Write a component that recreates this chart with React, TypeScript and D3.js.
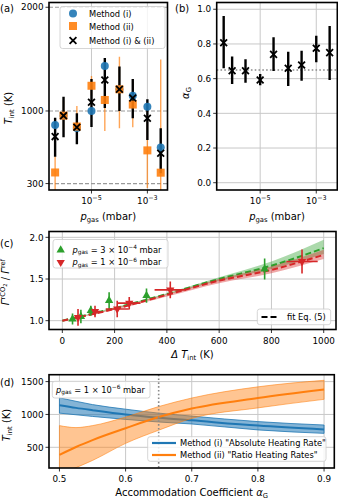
import * as d3 from "d3";

const FONT = "'DejaVu Sans', sans-serif";
const BLUE = "#1f77b4";
const ORANGE = "#ff7f0e";
const GREEN = "#2ca02c";
const RED = "#d62728";
const GRID = "#c8c8c8";
const TICK = 8.8;
const LABEL = 10;
const LEG = 8.3;

// (a) + (b): results vs gas pressure
const pGas = [5e-7, 1e-6, 3e-6, 1e-5, 3e-5, 1e-4, 3e-4, 1e-3, 3e-3];
const tMethodI = [865, 955, 835, 1000, 1433, 1209, 1147, 1041, 647];
const tMethodII = [407, 955, 850, 1243, 1106, 1209, 1062, 620, 405];
const tMethodIILo = [150, 820, 690, 1150, 807, 834, 843, 258, 150];
const tMethodIIHi = [560, 1100, 1048, 1337, 1400, 1522, 1280, 980, 1497];
const tBoth = [753, 955, 843, 1084, 1298, 1209, 1125, 930, 593];
const tBothLo = [559, 746, 679, 846, 1029, 1000, 930, 721, 400];
const tBothHi = [935, 1137, 978, 1308, 1511, 1428, 1308, 1112, 833];
const tRefLines = [300, 1000, 2000];
const pTicks = [1e-5, 1e-3];

const alphaG = [0.807, 0.646, 0.646, 0.592, 0.74, 0.66, 0.679, 0.775, 0.75];
const alphaGLo = [0.66, 0.569, 0.577, 0.562, 0.644, 0.558, 0.588, 0.694, 0.592];
const alphaGHi = [0.961, 0.727, 0.712, 0.627, 0.838, 0.755, 0.761, 0.848, 0.904];
const alphaTicks = [0, 0.2, 0.4, 0.6, 0.8, 1.0];
const alphaMean = 0.65;

// (c): rate ratio vs internal temperature
const dTHigh = [39, 71, 109, 179, 322, 774];
const gHigh = [1.02, 1.05, 1.12, 1.24, 1.3, 1.62];
const gHighErr = [0.065, 0.08, 0.06, 0.1, 0.085, 0.125];
const dTHighErr = [4, 4, 4, 4, 4, 8];
const dTLow = [60, 125, 210, 256, 413, 917];
const gLow = [1.04, 1.11, 1.14, 1.21, 1.37, 1.71];
const gLowErr = [0.1, 0.07, 0.1, 0.075, 0.1, 0.145];
const dTLowErr = [12, 19, 44, 43, 60, 60];
const fitT = [0, 200, 400, 600, 800, 1000];
const fitHigh = [1.0, 1.15, 1.32, 1.5, 1.66, 1.87];
const fitHighLo = [1.0, 1.14, 1.31, 1.48, 1.62, 1.8];
const fitHighHi = [1.0, 1.16, 1.33, 1.52, 1.71, 1.97];
const fitLow = [1.0, 1.14, 1.31, 1.48, 1.61, 1.79];
const fitLowLo = [1.0, 1.13, 1.29, 1.45, 1.57, 1.74];
const fitLowHi = [1.0, 1.15, 1.32, 1.5, 1.65, 1.85];
const dTTicks = [0, 200, 400, 600, 800, 1000];
const gTicks = [1.0, 1.5, 2.0];

// (d): T_int vs accommodation coefficient
const alphaAxis = [0.5, 0.525, 0.55, 0.6, 0.65, 0.7, 0.8, 0.9];
const tAbsolute = [1140, 1100, 1065, 1000, 950, 910, 830, 772];
const tAbsoluteHi = [1253, 1200, 1150, 1080, 1020, 975, 891, 839];
const tAbsoluteLo = [1020, 995, 970, 925, 885, 855, 765, 712];
const tRatio = [385, 505, 610, 790, 960, 1090, 1250, 1380];
const tRatioHi = [830, 800, 830, 960, 1120, 1250, 1420, 1520];
const tRatioLo = [80, 190, 300, 560, 760, 940, 1100, 1230];
const accTicks = [0.5, 0.6, 0.7, 0.8, 0.9];
const tTicksD = [500, 1000, 1500];

const Frame = ({ x0, x1, y0, y1 }) => (
    <rect x={x0} y={y0} width={x1 - x0} height={y1 - y0} fill="none" stroke="#000" strokeWidth={1.6} />
);

const Pow = ({ exp }) => (
    <>
        10<tspan dy={-4} fontSize={6.4}>{exp}</tspan>
    </>
);

const PgasLabel = ({ x, y }) => (
    <text x={x} y={y} fontSize={LABEL} textAnchor="middle">
        <tspan fontStyle="italic">p</tspan>
        <tspan fontSize={6.8} dy={2}>gas</tspan>
        <tspan dy={-2}> (mbar)</tspan>
    </text>
);

const TintLabel = ({ x, y }) => (
    <text transform={`translate(${x},${y}) rotate(-90)`} fontSize={LABEL} textAnchor="middle">
        <tspan fontStyle="italic">T</tspan>
        <tspan fontSize={6.8} dy={2}>int</tspan>
        <tspan dy={-2}> (K)</tspan>
    </text>
);

const XMark = ({ x, y, s = 3.4 }) => (
    <path d={`M${x - s},${y - s}L${x + s},${y + s}M${x - s},${y + s}L${x + s},${y - s}`} stroke="#000" strokeWidth={1.8} />
);

const LegendBox = ({ x, y, w, h }) => (
    <rect x={x} y={y} width={w} height={h} rx={2.5} fill="#fff" fillOpacity={0.8} stroke="#cccccc" strokeWidth={0.8} />
);

function PanelA() {
    const x = d3.scaleLog().domain([10 ** -6.52, 10 ** -2.28]).range([49, 167.5]);
    const y = d3.scaleLinear().domain([238, 2046]).range([190, 2.5]);
    const [x0, x1] = x.range();
    const [y1, y0] = y.range();
    return (
        <g>
            <clipPath id="clipA"><rect x={x0} y={y0} width={x1 - x0} height={y1 - y0} /></clipPath>
            {pTicks.map((v) => (
                <line key={v} x1={x(v)} x2={x(v)} y1={y0} y2={y1} stroke={GRID} strokeWidth={1} />
            ))}
            {tRefLines.map((v) => (
                <line key={v} x1={x0} x2={x1} y1={y(v)} y2={y(v)} stroke="#9a9a9a" strokeWidth={1.2} strokeDasharray="4,2" />
            ))}
            <g clipPath="url(#clipA)">
                {pGas.map((p, i) => (
                    <line key={"o" + i} x1={x(p)} x2={x(p)} y1={y(tMethodIILo[i])} y2={y(tMethodIIHi[i])} stroke={ORANGE} strokeOpacity={0.7} strokeWidth={1.4} />
                ))}
                {pGas.map((p, i) => (
                    <line key={"k" + i} x1={x(p)} x2={x(p)} y1={y(tBothLo[i])} y2={y(tBothHi[i])} stroke="#000" strokeWidth={2.4} />
                ))}
                {pGas.map((p, i) => (
                    <circle key={"c" + i} cx={x(p)} cy={y(tMethodI[i])} r={4} fill={BLUE} fillOpacity={0.9} />
                ))}
                {pGas.map((p, i) => (
                    <rect key={"s" + i} x={x(p) - 4} y={y(tMethodII[i]) - 4} width={8} height={8} fill={ORANGE} fillOpacity={0.9} />
                ))}
                {pGas.map((p, i) => (
                    <XMark key={"x" + i} x={x(p)} y={y(tBoth[i])} />
                ))}
            </g>
            <Frame x0={x0} x1={x1} y0={y0} y1={y1} />
            {tRefLines.map((v) => (
                <g key={v}>
                    <line x1={x0 - 3.5} x2={x0} y1={y(v)} y2={y(v)} stroke="#000" strokeWidth={0.8} />
                    <text x={x0 - 5.5} y={y(v) + 3.2} fontSize={TICK} textAnchor="end">{v}</text>
                </g>
            ))}
            {pTicks.map((v) => (
                <g key={v}>
                    <line x1={x(v)} x2={x(v)} y1={y1} y2={y1 + 3.5} stroke="#000" strokeWidth={0.8} />
                    <text x={x(v)} y={y1 + 13.5} fontSize={TICK} textAnchor="middle">
                        <Pow exp={"\u2212" + Math.round(-Math.log10(v))} />
                    </text>
                </g>
            ))}
            <PgasLabel x={(x0 + x1) / 2} y={219.5} />
            <TintLabel x={12} y={108} />
            <text x={0} y={11.5} fontSize={10}>(a)</text>

            <LegendBox x={60} y={6.5} w={105} h={42} />
            <circle cx={73} cy={13.5} r={4} fill={BLUE} fillOpacity={0.9} />
            <text x={89} y={16.5} fontSize={LEG}>Method (i)</text>
            <rect x={69} y={22} width={8} height={8} fill={ORANGE} fillOpacity={0.9} />
            <text x={89} y={29.5} fontSize={LEG}>Method (ii)</text>
            <XMark x={73} y={40.5} />
            <text x={89} y={43.5} fontSize={LEG}>Method (i) &amp; (ii)</text>
        </g>
    );
}

function PanelB() {
    const x = d3.scaleLog().domain([10 ** -6.55, 10 ** -2.25]).range([216.7, 337.3]);
    const y = d3.scaleLinear().domain([-0.042, 1.039]).range([190, 2.5]);
    const [x0, x1] = x.range();
    const [y1, y0] = y.range();
    return (
        <g>
            <clipPath id="clipB"><rect x={x0} y={y0} width={x1 - x0} height={y1 - y0} /></clipPath>
            {pTicks.map((v) => (
                <line key={v} x1={x(v)} x2={x(v)} y1={y0} y2={y1} stroke={GRID} strokeWidth={1} />
            ))}
            {alphaTicks.map((v) => (
                <line key={v} x1={x0} x2={x1} y1={y(v)} y2={y(v)} stroke={GRID} strokeWidth={1} />
            ))}
            <line x1={x0} x2={x1} y1={y(alphaMean)} y2={y(alphaMean)} stroke="#8a8a8a" strokeWidth={1.6} strokeDasharray="1.6,2.2" />
            <g clipPath="url(#clipB)">
                {pGas.map((p, i) => (
                    <line key={"k" + i} x1={x(p)} x2={x(p)} y1={y(alphaGLo[i])} y2={y(alphaGHi[i])} stroke="#000" strokeWidth={2.4} />
                ))}
                {pGas.map((p, i) => (
                    <XMark key={"x" + i} x={x(p)} y={y(alphaG[i])} />
                ))}
            </g>
            <Frame x0={x0} x1={x1} y0={y0} y1={y1} />
            {alphaTicks.map((v) => (
                <g key={v}>
                    <line x1={x0 - 3.5} x2={x0} y1={y(v)} y2={y(v)} stroke="#000" strokeWidth={0.8} />
                    <text x={x0 - 5.5} y={y(v) + 3.2} fontSize={TICK} textAnchor="end">{v.toFixed(1)}</text>
                </g>
            ))}
            {pTicks.map((v) => (
                <g key={v}>
                    <line x1={x(v)} x2={x(v)} y1={y1} y2={y1 + 3.5} stroke="#000" strokeWidth={0.8} />
                    <text x={x(v)} y={y1 + 13.5} fontSize={TICK} textAnchor="middle">
                        <Pow exp={"\u2212" + Math.round(-Math.log10(v))} />
                    </text>
                </g>
            ))}
            <PgasLabel x={(x0 + x1) / 2} y={219.5} />
            <text transform={`translate(${189},${93}) rotate(-90)`} fontSize={LABEL} textAnchor="middle">
                <tspan fontStyle="italic">α</tspan>
                <tspan fontSize={6.8} dy={2}>G</tspan>
            </text>
            <text x={175} y={11.5} fontSize={10}>(b)</text>
        </g>
    );
}

function PanelC() {
    const x = d3.scaleLinear().domain([-51, 1047]).range([49, 336]);
    const y = d3.scaleLinear().domain([0.894, 2.07]).range([329.5, 231.5]);
    const [x0, x1] = x.range();
    const [y1, y0] = y.range();
    const band = d3.area().x((d) => x(d[0])).y0((d) => y(d[1])).y1((d) => y(d[2])).curve(d3.curveMonotoneX);
    const line = d3.line().x((d) => x(d[0])).y((d) => y(d[1])).curve(d3.curveMonotoneX);
    const hiBand = fitT.map((t, i) => [t, fitHighLo[i], fitHighHi[i]]);
    const loBand = fitT.map((t, i) => [t, fitLowLo[i], fitLowHi[i]]);
    const tri = d3.symbol(d3.symbolTriangle, 30)();
    return (
        <g>
            <clipPath id="clipC"><rect x={x0} y={y0} width={x1 - x0} height={y1 - y0} /></clipPath>
            {dTTicks.map((v) => (
                <line key={v} x1={x(v)} x2={x(v)} y1={y0} y2={y1} stroke={GRID} strokeWidth={1} />
            ))}
            {gTicks.map((v) => (
                <line key={v} x1={x0} x2={x1} y1={y(v)} y2={y(v)} stroke={GRID} strokeWidth={1} />
            ))}
            <g clipPath="url(#clipC)">
                <path d={band(hiBand)} fill={GREEN} fillOpacity={0.4} />
                <path d={line(fitT.map((t, i) => [t, fitHigh[i]]))} fill="none" stroke={GREEN} strokeWidth={2} strokeDasharray="6,3" />
                <path d={band(loBand)} fill={RED} fillOpacity={0.4} />
                <path d={line(fitT.map((t, i) => [t, fitLow[i]]))} fill="none" stroke={RED} strokeWidth={2} strokeDasharray="6,3" />
                {dTHigh.map((t, i) => (
                    <g key={"g" + i} stroke={GREEN} strokeWidth={1.6}>
                        <line x1={x(t)} x2={x(t)} y1={y(gHigh[i] - gHighErr[i])} y2={y(gHigh[i] + gHighErr[i])} />
                        <line x1={x(t - dTHighErr[i])} x2={x(t + dTHighErr[i])} y1={y(gHigh[i])} y2={y(gHigh[i])} />
                    </g>
                ))}
                {dTLow.map((t, i) => (
                    <g key={"r" + i} stroke={RED} strokeWidth={1.6}>
                        <line x1={x(t)} x2={x(t)} y1={y(gLow[i] - gLowErr[i])} y2={y(gLow[i] + gLowErr[i])} />
                        <line x1={x(t - dTLowErr[i])} x2={x(t + dTLowErr[i])} y1={y(gLow[i])} y2={y(gLow[i])} />
                    </g>
                ))}
                {dTHigh.map((t, i) => (
                    <path key={"gt" + i} d={tri} transform={`translate(${x(t)},${y(gHigh[i])})`} fill={GREEN} />
                ))}
                {dTLow.map((t, i) => (
                    <path key={"rt" + i} d={tri} transform={`translate(${x(t)},${y(gLow[i])}) rotate(180)`} fill={RED} />
                ))}
            </g>
            <Frame x0={x0} x1={x1} y0={y0} y1={y1} />
            {gTicks.map((v) => (
                <g key={v}>
                    <line x1={x0 - 3.5} x2={x0} y1={y(v)} y2={y(v)} stroke="#000" strokeWidth={0.8} />
                    <text x={x0 - 5.5} y={y(v) + 3.2} fontSize={TICK} textAnchor="end">{v.toFixed(1)}</text>
                </g>
            ))}
            {dTTicks.map((v) => (
                <g key={v}>
                    <line x1={x(v)} x2={x(v)} y1={y1} y2={y1 + 3.5} stroke="#000" strokeWidth={0.8} />
                    <text x={x(v)} y={y1 + 14} fontSize={TICK} textAnchor="middle">{v}</text>
                </g>
            ))}
            <text x={(x0 + x1) / 2} y={358} fontSize={LABEL} textAnchor="middle">
                <tspan fontStyle="italic">Δ T</tspan>
                <tspan fontSize={6.8} dy={2}>int</tspan>
                <tspan dy={-2}> (K)</tspan>
            </text>
            <text transform={`translate(${9},${282}) rotate(-90)`} fontSize={LABEL} textAnchor="middle">
                <tspan fontStyle="italic">Γ</tspan>
                <tspan fontSize={6.8} dy={-3.8}>rCO</tspan>
                <tspan fontSize={5.2} dy={2}>2</tspan>
                <tspan dy={1.8}> / </tspan>
                <tspan fontStyle="italic">Γ</tspan>
                <tspan fontSize={6.8} dy={-3.8}>ref</tspan>
            </text>
            <text x={0} y={246.5} fontSize={10}>(c)</text>

            <LegendBox x={53} y={239.5} w={115} h={28.5} />
            <path d={tri} transform="translate(60.7,250)" fill={GREEN} />
            <text x={72.5} y={252.8} fontSize={LEG}>
                <tspan fontStyle="italic">p</tspan>
                <tspan fontSize={5.8} dy={1.5}>gas</tspan>
                <tspan dy={-1.5}> = 3 × 10</tspan>
                <tspan fontSize={5.8} dy={-3.5}>−4</tspan>
                <tspan dy={3.5}> mbar</tspan>
            </text>
            <path d={tri} transform="translate(60.7,262.3) rotate(180)" fill={RED} />
            <text x={72.5} y={265.3} fontSize={LEG}>
                <tspan fontStyle="italic">p</tspan>
                <tspan fontSize={5.8} dy={1.5}>gas</tspan>
                <tspan dy={-1.5}> = 1 × 10</tspan>
                <tspan fontSize={5.8} dy={-3.5}>−6</tspan>
                <tspan dy={3.5}> mbar</tspan>
            </text>

            <LegendBox x={257.3} y={309} w={73.4} h={15.7} />
            <line x1={261.5} x2={279.5} y1={317} y2={317} stroke="#000" strokeWidth={2} strokeDasharray="6,3" />
            <text x={287} y={320} fontSize={LEG}>fit Eq. (5)</text>
        </g>
    );
}

function PanelD() {
    const x = d3.scaleLinear().domain([0.4842, 0.9155]).range([49, 334.3]);
    const y = d3.scaleLinear().domain([185, 1605]).range([468, 374.7]);
    const [x0, x1] = x.range();
    const [y1, y0] = y.range();
    const band = d3.area().x((d) => x(d[0])).y0((d) => y(d[1])).y1((d) => y(d[2])).curve(d3.curveMonotoneX);
    const line = d3.line().x((d) => x(d[0])).y((d) => y(d[1])).curve(d3.curveMonotoneX);
    const absBand = alphaAxis.map((a, i) => [a, tAbsoluteLo[i], tAbsoluteHi[i]]);
    const ratBand = alphaAxis.map((a, i) => [a, tRatioLo[i], tRatioHi[i]]);
    const absLine = alphaAxis.map((a, i) => [a, tAbsolute[i]]);
    const ratLine = alphaAxis.map((a, i) => [a, tRatio[i]]);
    return (
        <g>
            <clipPath id="clipD"><rect x={x0} y={y0} width={x1 - x0} height={y1 - y0} /></clipPath>
            {accTicks.map((v) => (
                <line key={v} x1={x(v)} x2={x(v)} y1={y0} y2={y1} stroke={GRID} strokeWidth={1} />
            ))}
            {tTicksD.map((v) => (
                <line key={v} x1={x0} x2={x1} y1={y(v)} y2={y(v)} stroke={GRID} strokeWidth={1} />
            ))}
            <g clipPath="url(#clipD)">
                <path d={band(absBand)} fill={BLUE} fillOpacity={0.55} stroke={BLUE} strokeWidth={0.8} />
                <path d={line(absLine)} fill="none" stroke={BLUE} strokeWidth={2} />
                <path d={band(ratBand)} fill={ORANGE} fillOpacity={0.45} stroke={ORANGE} strokeOpacity={0.7} strokeWidth={0.8} />
                <path d={line(ratLine)} fill="none" stroke={ORANGE} strokeWidth={2} />
            </g>
            <line x1={x(alphaMean)} x2={x(alphaMean)} y1={y0} y2={y1} stroke="#8a8a8a" strokeWidth={1.6} strokeDasharray="1.6,2.2" />
            <Frame x0={x0} x1={x1} y0={y0} y1={y1} />
            {tTicksD.map((v) => (
                <g key={v}>
                    <line x1={x0 - 3.5} x2={x0} y1={y(v)} y2={y(v)} stroke="#000" strokeWidth={0.8} />
                    <text x={x0 - 5.5} y={y(v) + 3.2} fontSize={TICK} textAnchor="end">{v}</text>
                </g>
            ))}
            {accTicks.map((v) => (
                <g key={v}>
                    <line x1={x(v)} x2={x(v)} y1={y1} y2={y1 + 3.5} stroke="#000" strokeWidth={0.8} />
                    <text x={x(v)} y={y1 + 14} fontSize={TICK} textAnchor="middle">{v.toFixed(1)}</text>
                </g>
            ))}
            <text x={(x0 + x1) / 2} y={496} fontSize={LABEL} textAnchor="middle">
                Accommodation Coefficient <tspan fontStyle="italic">α</tspan>
                <tspan fontSize={6.8} dy={2}>G</tspan>
            </text>
            <TintLabel x={10} y={425} />
            <text x={0} y={386} fontSize={10}>(d)</text>

            <LegendBox x={52.3} y={381.3} w={97.7} h={16.7} />
            <text x={56} y={392.5} fontSize={LEG}>
                <tspan fontStyle="italic">p</tspan>
                <tspan fontSize={5.8} dy={1.5}>gas</tspan>
                <tspan dy={-1.5}> = 1 × 10</tspan>
                <tspan fontSize={5.8} dy={-3.5}>−6</tspan>
                <tspan dy={3.5}> mbar</tspan>
            </text>

            <LegendBox x={147.7} y={436.7} w={178.3} h={24.6} />
            <line x1={152} x2={176} y1={443} y2={443} stroke={BLUE} strokeWidth={2.2} />
            <text x={180} y={446} fontSize={LEG}>Method (i) "Absolute Heating Rate"</text>
            <line x1={152} x2={176} y1={455} y2={455} stroke={ORANGE} strokeWidth={2.2} />
            <text x={180} y={458} fontSize={LEG}>Method (ii) "Ratio Heating Rates"</text>
        </g>
    );
}

export default function App() {
    return (
        <svg width={338} height={500} style={{ position: "absolute", left: 0, top: 0, background: "#fff" }} fontFamily={FONT}>
            <PanelA />
            <PanelB />
            <PanelC />
            <PanelD />
        </svg>
    );
}
